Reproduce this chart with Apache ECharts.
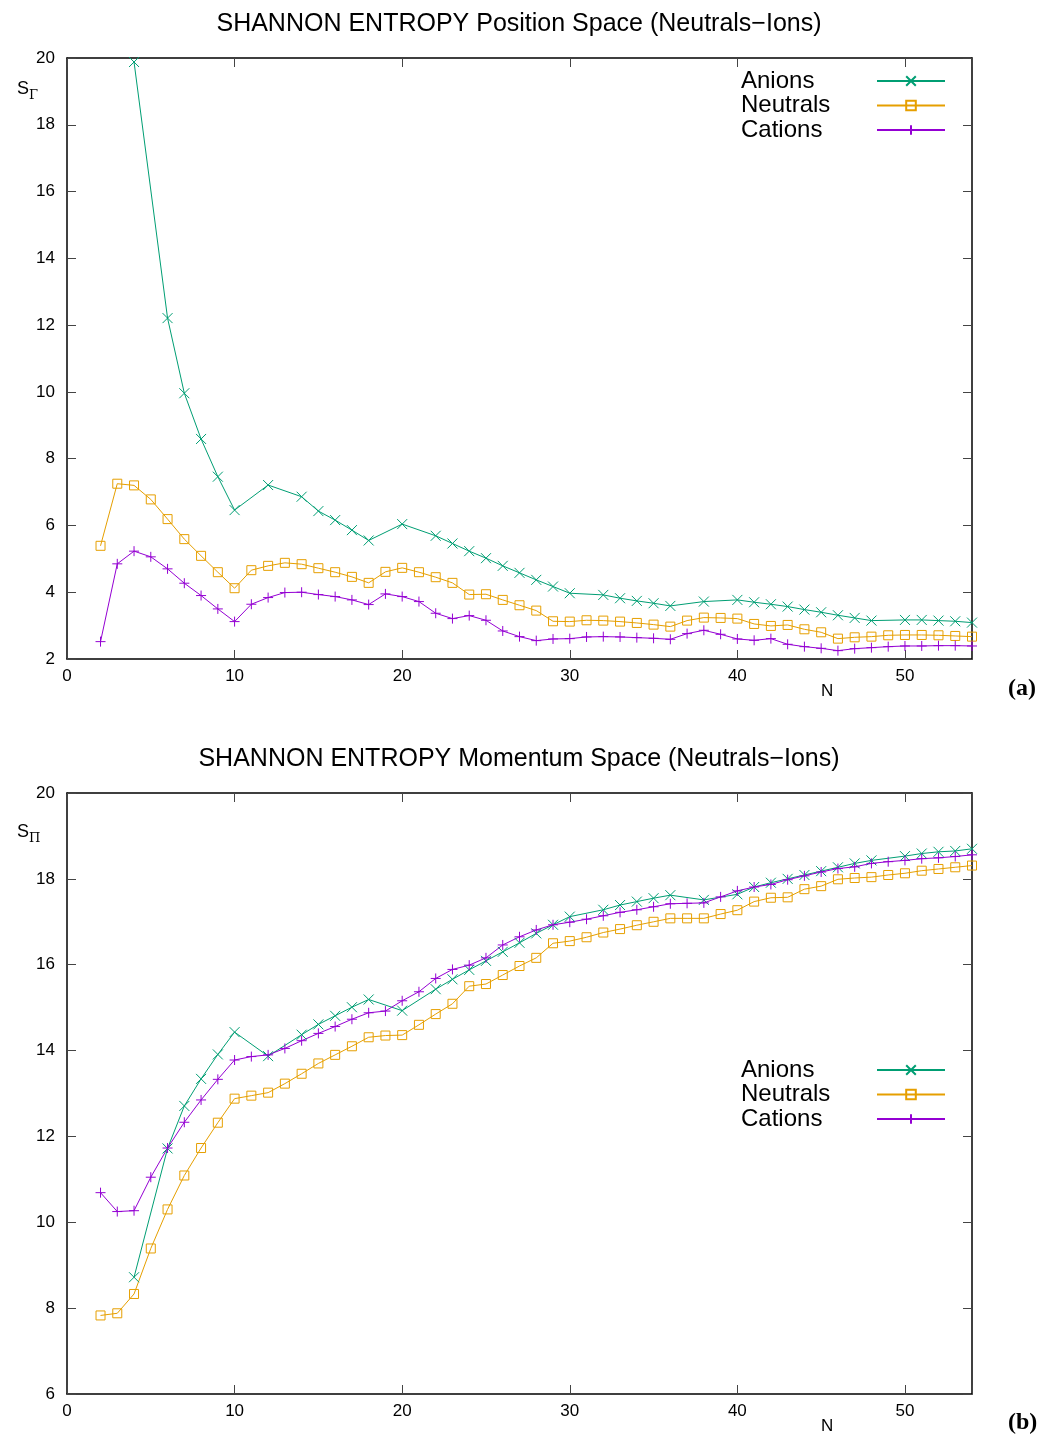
<!DOCTYPE html>
<html>
<head>
<meta charset="utf-8">
<script src="https://cdn.jsdelivr.net/npm/echarts@6/dist/echarts.min.js"></script>
<style>
  html, body { margin: 0; padding: 0; background: #fff; }
  #chart { width: 1054px; height: 1439px; }
</style>
</head>
<body>
<div id="chart"></div>
<script>
// N values (x axis)
const nValues = [2, 3, 4, 5, 6, 7, 8, 9, 10, 11, 12, 13, 14, 15, 16, 17, 18, 19, 20, 21,
  22, 23, 24, 25, 26, 27, 28, 29, 30, 31, 32, 33, 34, 35, 36, 37, 38, 39, 40, 41,
  42, 43, 44, 45, 46, 47, 48, 49, 50, 51, 52, 53, 54];

// (a) position space
const posAnions = [null, null, 19.88, null, 12.21, 9.96, 8.59, 7.46, 6.46, null,
  7.21, null, 6.86, 6.43, 6.16, 5.86, 5.55, null, 6.04, null,
  5.69, 5.46, 5.23, 5.02, 4.79, 4.58, 4.37, 4.17, 3.97, null,
  3.92, 3.82, 3.74, 3.67, 3.59, null, 3.72, null, 3.77, 3.70,
  3.64, 3.57, 3.48, 3.40, 3.31, 3.23, 3.15, null, 3.17, 3.17,
  3.15, 3.13, 3.09];
const posNeutrals = [5.39, 7.25, 7.20, 6.78, 6.19, 5.59, 5.09, 4.60, 4.12, 4.66,
  4.79, 4.88, 4.84, 4.72, 4.60, 4.46, 4.28, 4.61, 4.73, 4.60,
  4.45, 4.28, 3.93, 3.94, 3.77, 3.61, 3.45, 3.13, 3.12, 3.16,
  3.15, 3.12, 3.08, 3.03, 2.97, 3.15, 3.24, 3.23, 3.21, 3.05,
  2.99, 3.02, 2.89, 2.80, 2.61, 2.65, 2.67, 2.71, 2.72, 2.72,
  2.71, 2.69, 2.67];
const posCations = [2.52, 4.85, 5.23, 5.06, 4.70, 4.27, 3.90, 3.50, 3.12, 3.64,
  3.84, 3.99, 4.00, 3.93, 3.87, 3.77, 3.63, 3.95, 3.87, 3.72,
  3.37, 3.21, 3.30, 3.16, 2.84, 2.67, 2.55, 2.60, 2.61, 2.66,
  2.67, 2.66, 2.64, 2.62, 2.59, 2.76, 2.86, 2.74, 2.60, 2.56,
  2.61, 2.44, 2.37, 2.32, 2.25, 2.31, 2.34, 2.37, 2.39, 2.39,
  2.40, 2.40, 2.39];

// (b) momentum space
const momAnions = [null, null, 8.72, null, 11.72, 12.71, 13.34, 13.91, 14.43, null,
  13.87, null, 14.37, 14.61, 14.81, 15.01, 15.19, null, 14.93, null,
  15.43, 15.66, 15.88, 16.09, 16.30, 16.51, 16.73, 16.93, 17.12, null,
  17.28, 17.39, 17.47, 17.55, 17.62, null, 17.51, null, 17.64, 17.81,
  17.91, 18.00, 18.09, 18.18, 18.27, 18.36, 18.43, null, 18.53, 18.59,
  18.63, 18.65, 18.70];
const momNeutrals = [7.83, 7.88, 8.33, 9.39, 10.30, 11.09, 11.73, 12.32, 12.88, 12.95,
  13.02, 13.23, 13.46, 13.70, 13.90, 14.10, 14.31, 14.35, 14.36, 14.60,
  14.85, 15.09, 15.50, 15.55, 15.76, 15.97, 16.16, 16.50, 16.55, 16.64,
  16.75, 16.83, 16.92, 17.00, 17.08, 17.08, 17.08, 17.18, 17.27, 17.47,
  17.56, 17.57, 17.76, 17.83, 17.99, 18.02, 18.04, 18.09, 18.13, 18.19,
  18.23, 18.27, 18.31];
const momCations = [10.69, 10.25, 10.27, 11.05, 11.73, 12.33, 12.85, 13.33, 13.78, 13.86,
  13.90, 14.05, 14.23, 14.40, 14.56, 14.73, 14.88, 14.92, 15.16, 15.37,
  15.68, 15.89, 15.99, 16.16, 16.46, 16.65, 16.81, 16.93, 16.99, 17.06,
  17.14, 17.22, 17.28, 17.35, 17.42, 17.43, 17.44, 17.58, 17.72, 17.81,
  17.87, 17.98, 18.07, 18.16, 18.24, 18.28, 18.36, 18.40, 18.43, 18.47,
  18.49, 18.52, 18.56];

const seriesNames = ["Anions", "Neutrals", "Cations"];
const titles = [
  "SHANNON ENTROPY Position Space (Neutrals\u2212Ions)",
  "SHANNON ENTROPY Momentum Space (Neutrals\u2212Ions)",
];

const FONT = "Liberation Sans";
const colors = { Anions: "#009e73", Neutrals: "#e69f00", Cations: "#9400d3" };
const symbols = {
  Anions: { symbol: "path://M0,0L10,10M10,0L0,10", size: 10 },
  Neutrals: { symbol: "rect", size: 9 },
  Cations: { symbol: "path://M5,0L5,10M0,5L10,5", size: 10 },
};

const chart = echarts.init(document.getElementById("chart"));

function pairs(values) {
  const out = [];
  values.forEach((v, i) => {
    if (v !== null) out.push([nValues[i], v]);
  });
  return out;
}

function makeSeries(name, values, axisIdx) {
  return {
    name: name,
    type: "line",
    xAxisIndex: axisIdx,
    yAxisIndex: axisIdx,
    data: pairs(values),
    symbol: symbols[name].symbol,
    symbolSize: symbols[name].size,
    lineStyle: { color: colors[name], width: 1 },
    itemStyle: { color: "rgba(0,0,0,0)", borderColor: colors[name], borderWidth: 1 },
    emphasis: { disabled: true },
  };
}

function xAxes(gridIndex) {
  const base = {
    type: "value",
    gridIndex: gridIndex,
    min: 0,
    max: 54,
    interval: 10,
    splitLine: { show: false },
    axisLine: { show: true, onZero: false, lineStyle: { color: "#000", width: 1.5 } },
    axisTick: { show: true, inside: true, length: 9, lineStyle: { color: "#444" } },
  };
  return [
    Object.assign({}, base, {
      position: "bottom",
      axisLabel: {
        margin: 9,
        fontSize: 17,
        fontFamily: FONT,
        color: "#000",
        formatter: (v) => (v % 10 === 0 ? String(v) : ""),
      },
    }),
    Object.assign({}, base, { position: "top", axisLabel: { show: false } }),
  ];
}

function yAxes(gridIndex, min) {
  const base = {
    type: "value",
    gridIndex: gridIndex,
    min: min,
    max: 20,
    interval: 2,
    splitLine: { show: false },
    axisLine: { show: true, onZero: false, lineStyle: { color: "#000", width: 1.5 } },
    axisTick: { show: true, inside: true, length: 9, lineStyle: { color: "#444" } },
  };
  return [
    Object.assign({}, base, {
      position: "left",
      axisLabel: { margin: 12, fontSize: 17, fontFamily: FONT, color: "#000" },
    }),
    Object.assign({}, base, { position: "right", axisLabel: { show: false } }),
  ];
}

function legendFor(top) {
  return {
    orient: "vertical",
    left: 736,
    top: top,
    align: "right",
    itemWidth: 68,
    itemHeight: 12,
    itemGap: 0.5,
    data: seriesNames,
    formatter: (name) => "{t|" + name + "}",
    textStyle: {
      fontFamily: FONT,
      color: "#000",
      rich: {
        t: { width: 131, align: "left", fontSize: 24, lineHeight: 25, fontFamily: FONT, color: "#000" },
      },
    },
  };
}

const option = {
  animation: false,
  backgroundColor: "#fff",
  title: [
    {
      text: titles[0],
      left: 514,
      top: 7,
      textAlign: "center",
      textStyle: { fontFamily: FONT, fontSize: 25, fontWeight: "normal", color: "#000" },
    },
    {
      text: titles[1],
      left: 514,
      top: 742,
      textAlign: "center",
      textStyle: { fontFamily: FONT, fontSize: 25, fontWeight: "normal", color: "#000" },
    },
  ],
  legend: [legendFor(64), legendFor(1053)],
  grid: [
    { left: 67, right: 82, top: 58, height: 601 },
    { left: 67, right: 82, top: 793, height: 601 },
  ],
  xAxis: [].concat(xAxes(0), xAxes(1)),
  yAxis: [].concat(yAxes(0, 2), yAxes(1, 6)),
  series: [
    makeSeries("Anions", posAnions, 0),
    makeSeries("Neutrals", posNeutrals, 0),
    makeSeries("Cations", posCations, 0),
    makeSeries("Anions", momAnions, 2),
    makeSeries("Neutrals", momNeutrals, 2),
    makeSeries("Cations", momCations, 2),
  ],
  graphic: [
    { type: "text", left: 17, top: 80, style: { text: "S", fontSize: 18, fontFamily: FONT, fill: "#000" } },
    { type: "text", left: 29, top: 89, style: { text: "\u0393", fontSize: 13, fontFamily: "DejaVu Serif", fill: "#000" } },
    { type: "text", left: 17, top: 823, style: { text: "S", fontSize: 18, fontFamily: FONT, fill: "#000" } },
    { type: "text", left: 29, top: 832, style: { text: "\u03a0", fontSize: 13, fontFamily: "DejaVu Serif", fill: "#000" } },
    { type: "text", left: 821, top: 683, style: { text: "N", fontSize: 17, fontFamily: FONT, fill: "#000" } },
    { type: "text", left: 821, top: 1418, style: { text: "N", fontSize: 17, fontFamily: FONT, fill: "#000" } },
    { type: "text", left: 1008, top: 677, style: { text: "(a)", fontSize: 24, fontWeight: "bold", fontFamily: "Liberation Serif", fill: "#000" } },
    { type: "text", left: 1008, top: 1411, style: { text: "(b)", fontSize: 24, fontWeight: "bold", fontFamily: "Liberation Serif", fill: "#000" } },
  ],
};

chart.setOption(option);
</script>
</body>
</html>
